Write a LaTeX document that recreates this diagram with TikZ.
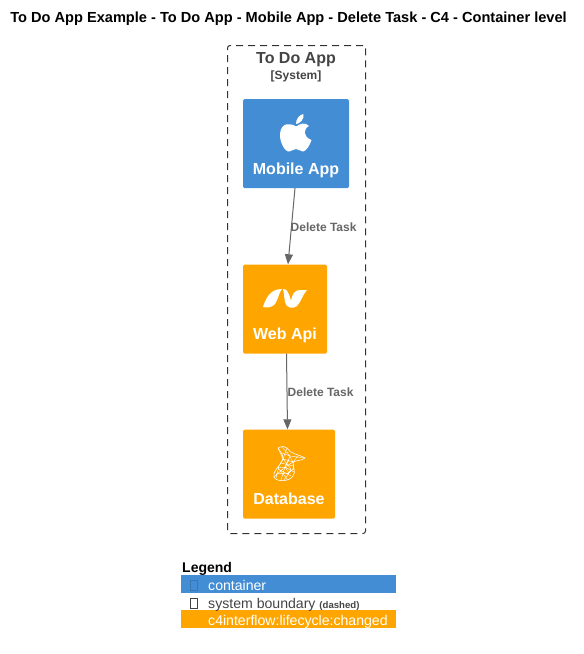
\documentclass[tikz,border=0pt]{standalone}
\usepackage{fontspec}
\setmainfont{Liberation Sans}
\usetikzlibrary{arrows.meta}
\definecolor{blueC}{HTML}{438DD5}
\definecolor{orangeC}{HTML}{FFA500}
\definecolor{edgeC}{HTML}{666666}
\definecolor{boundC}{HTML}{444444}
\tikzset{
  x=1pt,y=-1pt,
  box/.style={rectangle,rounded corners=1.5,inner sep=0,minimum width=#1,anchor=center,minimum height=89},
  label/.style={text=white,font=\bfseries\fontsize{16}{16}\selectfont,inner sep=0},
  conn/.style={draw=edgeC,line width=1,-{Triangle[length=10,width=8,fill=edgeC]}},
  conntext/.style={text=edgeC,font=\bfseries\fontsize{12}{12}\selectfont,inner sep=0,anchor=west},
  legtext/.style={font=\fontsize{14.1}{14}\selectfont,inner sep=0,anchor=base west},
  bar/.style={inner sep=0,minimum width=215,minimum height=18,anchor=north west},
}
\begin{document}
\begin{tikzpicture}
\useasboundingbox (0,0) rectangle (584,654);
\node[font=\bfseries\fontsize{14.6}{14.6}\selectfont,inner sep=0] (title) at (288.5,19) {To Do App Example - To Do App - Mobile App - Delete Task - C4 - Container level};
\node[draw=black!80,dash pattern=on 7pt off 5pt,line width=1,rounded corners=2.5,inner sep=0,minimum width=138,minimum height=488] (boundary) at (296.5,289.5) {};
\node[text=boundC,font=\bfseries\fontsize{16}{16}\selectfont,inner sep=0] (btitle) at (296,59.5) {To Do App};
\node[text=boundC,font=\bfseries\fontsize{12}{12}\selectfont,inner sep=0] (bsub) at (296,76.5) {[System]};
\node[box=106,fill=blueC] (mobile) at (296,143.5) {};
\node[box=84,fill=orangeC] (web) at (285,309) {};
\node[box=92,fill=orangeC] (db) at (289,474) {};
\node[label] (mobilet) at (296,170) {Mobile App};
\node[label] (webt) at (285,335) {Web Api};
\node[label] (dbt) at (289,499) {Database};
% apple
\fill[white] (296,126.5) .. controls (292,123.5) and (281,121) .. (280,134)
  .. controls (279.5,142) and (285,152) .. (289,151.5)
  .. controls (292,151.5) and (293,149) .. (296,149)
  .. controls (299,149) and (300,151.5) .. (303,151.5)
  .. controls (306,151.5) and (310,145) .. (311.5,140)
  .. controls (303,137) and (303,129) .. (309,126)
  .. controls (305,121.5) and (300,124) .. (296,126.5) -- cycle;
\fill[white] (296,124) .. controls (296,119) and (299,115) .. (303.5,114)
  .. controls (304.5,119) and (300,124) .. (296,124) -- cycle;
% .NET
\fill[white] (263,307) .. controls (266,298) and (270,289) .. (282,289)
  .. controls (279,292) and (278,300) .. (275,304)
  .. controls (272,307.5) and (267,308) .. (263,307) -- cycle;
\fill[white] (283,289) .. controls (287,288.5) and (289,293) .. (291,301)
  .. controls (292,295) and (294,290) .. (300,290)
  -- (307,290)
  .. controls (303,294) and (301,302) .. (297,306)
  .. controls (293,309.5) and (286,308) .. (285,302)
  .. controls (284,296) and (284,292) .. (283,289) -- cycle;
% SQL Server glyph
\draw[white,line width=0.6,line join=round]
  (278,448) .. controls (282,446) and (285,446) .. (287,448)
  .. controls (290,454) and (298,454) .. (305,458)
  .. controls (301,461) and (297,460) .. (293,462)
  .. controls (293,468) and (296,472) .. (293,476)
  .. controls (289,482) and (276,482) .. (274,477)
  .. controls (272,472) and (280,466) .. (283,459)
  .. controls (283,454) and (280,451) .. (278,448) -- cycle;
\draw[white,line width=0.4]
  (278,448) -- (283,459) -- (293,462) (287,448) -- (283,459) -- (278,468) -- (288,480)
  (282,447) -- (290,456) -- (285,467) -- (281,480) (298,456) -- (293,462) -- (285,467) -- (274,477)
  (278,468) -- (285,467) -- (289,473) -- (284,480) (294,468) -- (289,473) -- (276,474)
  (287,452) -- (293,462) -- (294,470) (305,458) -- (290,456) -- (282,453)
  (289,460) -- (285,467) -- (294,472) (283,459) -- (291,469) -- (287,476) (281,463) -- (293,466)
  (279,466) -- (276,478) (291,476) -- (280,470);
% connectors
\draw[conn] ([xshift=-1]mobile.south) -- ([xshift=3]web.north);
\draw[conn] ([xshift=1.5]web.south) -- ([xshift=-1.5]db.north);
\node[conntext] (l1) at (290.5,227) {Delete Task};
\node[conntext] (l2) at (287.5,392) {Delete Task};
% legend
\node[font=\bfseries\fontsize{14}{14}\selectfont,inner sep=0,anchor=base west] (leg) at (182,572) {Legend};
\node[bar,fill=blueC] (b1) at (181,575) {};
\node[bar,fill=orangeC] (b3) at (181,610) {};
\node[draw=blueC!85!black,fill=blueC,inner sep=0,minimum width=7,minimum height=10,line width=0.7] (k1) at (193.5,585.5) {};
\node[draw=boundC,fill=white,inner sep=0,minimum width=7,minimum height=10,line width=0.7] (k2) at (193.5,603) {};
\node[legtext,text=white] (t1) at (208,590) {container};
\node[legtext,text=boundC] (t2) at (208,608) {system boundary \bfseries\fontsize{9.6}{9}\selectfont (dashed)};
\node[legtext,text=white] (t3) at (208,625) {c4interflow:lifecycle:changed};
\end{tikzpicture}
\end{document}
